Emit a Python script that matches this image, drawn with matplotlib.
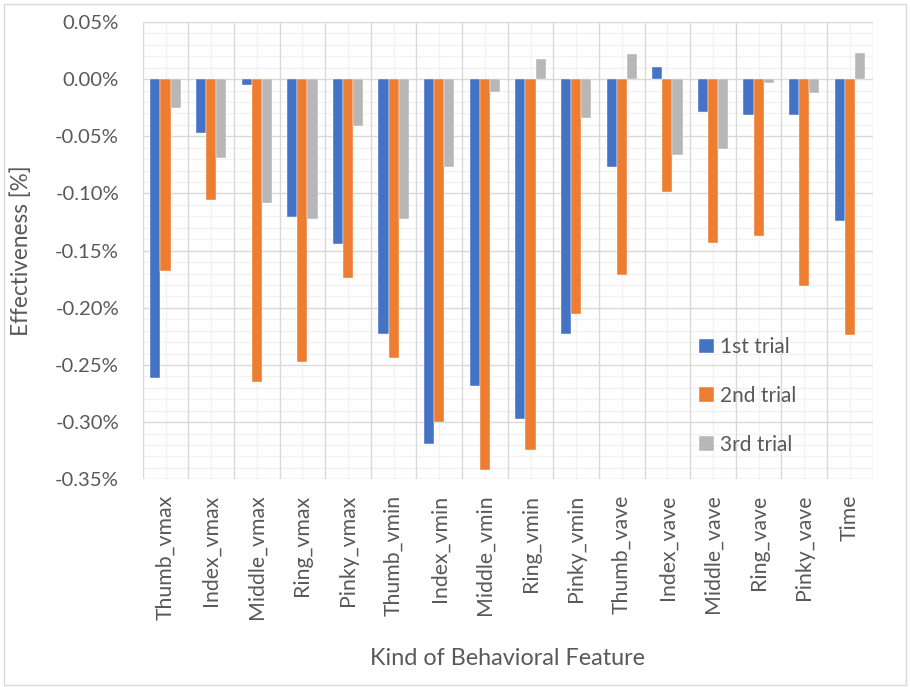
import matplotlib
matplotlib.use("Agg")
import matplotlib.pyplot as plt
from matplotlib.patches import Rectangle
from matplotlib.ticker import MultipleLocator, FuncFormatter
import numpy as np

plt.rcParams['font.family'] = ['Lato', 'DejaVu Sans']

categories = ["Thumb_vmax", "Index_vmax", "Middle_vmax", "Ring_vmax", "Pinky_vmax",
              "Thumb_vmin", "Index_vmin", "Middle_vmin", "Ring_vmin", "Pinky_vmin",
              "Thumb_vave", "Index_vave", "Middle_vave", "Ring_vave", "Pinky_vave",
              "Time"]

trial1 = [-0.261, -0.047, -0.005, -0.121, -0.144, -0.223, -0.319, -0.268,
          -0.297, -0.223, -0.077, 0.011, -0.029, -0.031, -0.031, -0.124]
trial2 = [-0.168, -0.106, -0.265, -0.247, -0.174, -0.244, -0.300, -0.342,
          -0.324, -0.205, -0.171, -0.099, -0.143, -0.137, -0.181, -0.224]
trial3 = [-0.025, -0.069, -0.108, -0.122, -0.041, -0.122, -0.077, -0.011,
          0.018, -0.034, 0.022, -0.066, -0.061, -0.003, -0.012, 0.023]

series = [("1st trial", trial1, "#4472C4"),
          ("2nd trial", trial2, "#ED7D31"),
          ("3rd trial", trial3, "#B7B7B7")]

text_color = "#595959"
W, H = 910, 687
fig = plt.figure(figsize=(W / 100, H / 100), dpi=100)

# chart-area outline
fig.patches.append(Rectangle((4 / W, 2 / H), 902 / W, 681 / H, transform=fig.transFigure,
                             fill=False, edgecolor="#D9D9D9", linewidth=1.0))

ax = fig.add_axes([142.7 / W, 1 - 479.3 / H, 730 / W, 457.3 / H])

x = np.arange(len(categories))
bw = 0.222
for i, (name, vals, col) in enumerate(series):
    ax.bar(x + (i - 1) * bw, vals, width=bw, color=col,
           label=name, zorder=3, edgecolor="white", linewidth=0.3)

ax.set_xlim(-0.5, len(categories) - 0.5)
ax.set_ylim(-0.35, 0.05)

# gridlines: majors at 0.05 % and category boundaries, minors in between
ax.yaxis.set_major_locator(MultipleLocator(0.05))
ax.yaxis.set_minor_locator(MultipleLocator(0.01))
ax.yaxis.set_major_formatter(FuncFormatter(lambda v, p: f"{v:.2f}%"))
ax.set_xticks(x)
ax.set_xticklabels(categories, rotation=90)
for b in np.arange(-0.5, len(categories), 1.0):
    ax.axvline(b, color="#D9D9D9", linewidth=1.0, zorder=1)
for c in x:
    ax.axvline(c, color="#F2F2F2", linewidth=1.0, zorder=0.5)
ax.grid(axis="y", which="major", color="#D9D9D9", linewidth=1.0, zorder=1)
ax.grid(axis="y", which="minor", color="#F2F2F2", linewidth=1.0, zorder=0.5)
ax.set_axisbelow(True)

for s in ax.spines.values():
    s.set_visible(False)
ax.tick_params(axis="both", which="both", length=0, colors=text_color)
ax.tick_params(axis="y", pad=17, labelsize=14.6)
ax.tick_params(axis="x", pad=11, labelsize=15.3)

ax.set_ylabel("Effectiveness [%]", fontsize=16.3, color=text_color, labelpad=0)
ax.yaxis.set_label_coords((32 - 142.7) / 730, 0.5)
ax.set_xlabel("Kind of Behavioral Feature", fontsize=16.8, color=text_color)
ax.xaxis.set_label_coords(0.5, (479.3 - 648) / 457.3)

leg = ax.legend(loc="center left", bbox_to_anchor=((699 - 142.7) / 730, (479.3 - 396) / 457.3),
                frameon=False, fontsize=15, labelcolor=text_color, handlelength=0.7,
                handleheight=0.7, handletextpad=0.3, labelspacing=1.38,
                borderpad=0, borderaxespad=0)

fig.savefig("out.png", dpi=100, facecolor="white")
